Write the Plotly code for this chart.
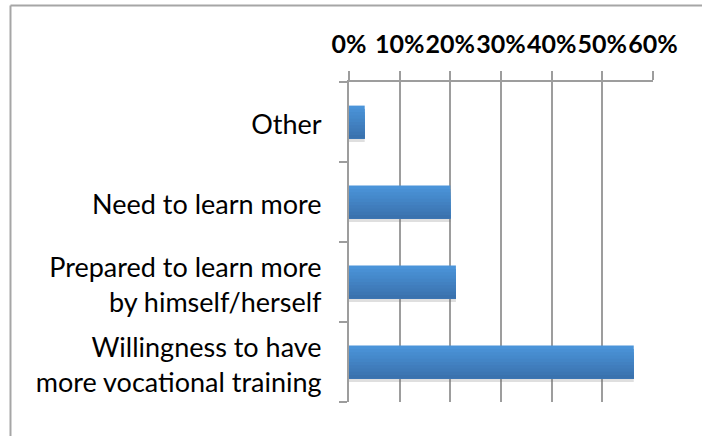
import plotly.graph_objects as go

# Survey responses (bottom to top as drawn)
categories = [
    "Willingness to have<br>more vocational training",
    "Prepared to learn more<br>by himself/herself",
    "Need to learn more",
    "Other",
]
shares = [0.562, 0.211, 0.200, 0.031]

tick_vals = [0, 0.1, 0.2, 0.3, 0.4, 0.5, 0.6]
tick_text = ["0%", "10%", "20%", "30%", "40%", "50%", "60%"]

grid_color = "#9d9d9d"
font_family = "Lato, 'Open Sans', sans-serif"

bar_width = 0.41
n_stripes = 10
dark = (0x3a, 0x72, 0xae)
light = (0x4b, 0x94, 0xd9)

fig = go.Figure()

# soft shadow under each bar
fig.add_trace(
    go.Bar(
        x=shares,
        y=categories,
        orientation="h",
        width=0.045,
        offset=-bar_width / 2 - 0.045,
        marker=dict(color="rgba(110,110,110,0.22)", line=dict(width=0)),
        showlegend=False,
        hoverinfo="skip",
    )
)

# vertical gradient: full-height light bar first, then ever shorter,
# darker bars laid over its lower part, so no seams can show
step = bar_width / n_stripes
for k in range(n_stripes):
    t = 1 - k / (n_stripes - 1)
    rgb = tuple(round(d + (l - d) * t) for d, l in zip(dark, light))
    fig.add_trace(
        go.Bar(
            x=shares,
            y=categories,
            orientation="h",
            width=(n_stripes - k) * step,
            offset=-bar_width / 2,
            marker=dict(color="rgb(%d,%d,%d)" % rgb, line=dict(width=0)),
            showlegend=False,
            hoverinfo="skip" if k else "x+y",
        )
    )

# outer frame of the chart area (runs off the right and bottom edges)
frame = dict(type="line", xref="paper", yref="paper", line=dict(color="#a6a6a6", width=2))
fig.add_shape(frame, x0=-1.1135, x1=1.3, y0=1.239, y1=1.239)
fig.add_shape(frame, x0=-1.1135, x1=-1.1135, y0=1.239, y1=-0.3)

fig.update_layout(
    width=702,
    height=436,
    margin=dict(l=349, r=49, t=82, b=34),
    barmode="overlay",
    paper_bgcolor="white",
    plot_bgcolor="white",
    font=dict(family=font_family, color="#000000"),
    xaxis=dict(
        side="top",
        range=[0, 0.6],
        tickvals=tick_vals,
        ticktext=tick_text,
        tickangle=0,
        tickfont=dict(size=25, weight="bold"),
        showgrid=True,
        gridcolor=grid_color,
        gridwidth=2,
        showline=True,
        linecolor=grid_color,
        linewidth=2,
        ticks="outside",
        ticklen=9,
        tickwidth=2,
        tickcolor=grid_color,
        ticklabelstandoff=8,
        zeroline=False,
        automargin=False,
        fixedrange=True,
    ),
    yaxis=dict(
        tickfont=dict(size=27),
        showline=True,
        linecolor=grid_color,
        linewidth=2,
        ticks="outside",
        tickson="boundaries",
        ticklen=8,
        tickwidth=2,
        tickcolor=grid_color,
        ticklabelstandoff=20,
        ticklabelshift=3,
        showgrid=False,
        automargin=False,
        fixedrange=True,
    ),
)

# the page's default 8px body margin would push the chart off its spot
fig.write_html(
    "out.html",
    config={"displayModeBar": False},
    post_script="document.body.style.margin = '0';",
)
